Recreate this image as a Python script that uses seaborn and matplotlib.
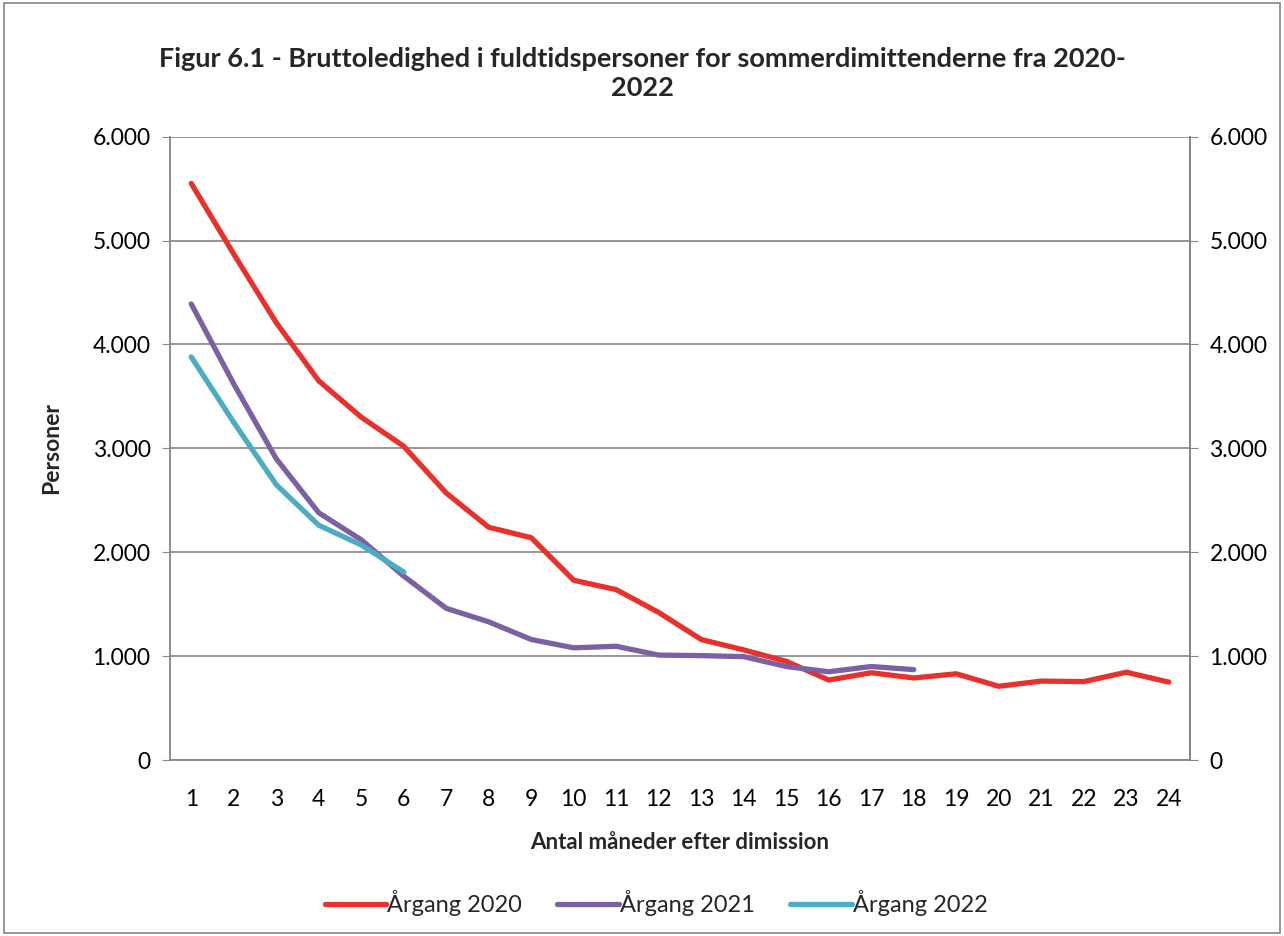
import numpy as np
import pandas as pd
import matplotlib
matplotlib.use("Agg")
import matplotlib.pyplot as plt
import seaborn as sns
from matplotlib.ticker import FuncFormatter, FixedLocator

# Data
months = list(range(1, 25))
aargang_2020 = [5550, 4870, 4210, 3650, 3300, 3020, 2570, 2240, 2140, 1730, 1640, 1420,
                1160, 1060, 950, 770, 840, 790, 830, 710, 760, 755, 845, 750]
aargang_2021 = [4390, 3620, 2900, 2380, 2120, 1770, 1460, 1330, 1160, 1080, 1095, 1010,
                1005, 995, 900, 850, 900, 870]
aargang_2022 = [3880, 3250, 2650, 2260, 2070, 1810]
series_names = ["Årgang 2020", "Årgang 2021", "Årgang 2022"]
colors = ["#E8312A", "#7B60A4", "#4BACC6"]
y_ticks = [0, 1000, 2000, 3000, 4000, 5000, 6000]

rows = []
for name, vals in zip(series_names, [aargang_2020, aargang_2021, aargang_2022]):
    for m, v in zip(months, vals):
        rows.append({"Måned": m, "Personer": v, "Serie": name})
df = pd.DataFrame(rows)

sns.set_style("white")
plt.rcParams["font.family"] = ["Lato", "DejaVu Sans"]

fig = plt.figure(figsize=(12.84, 9.36), dpi=100)
ax = fig.add_axes([0.1324, 0.188, 0.7944, 0.666])

sns.lineplot(data=df, x="Måned", y="Personer", hue="Serie", hue_order=series_names,
             palette=colors, linewidth=3.8, ax=ax, legend=False, sort=True,
             solid_capstyle="round")

ax.set_xlim(0.5, 24.5)
ax.set_ylim(0, 6000)
fmt = FuncFormatter(lambda v, p: f"{int(v):,}".replace(",", "."))
ax.yaxis.set_major_locator(FixedLocator(y_ticks))
ax.yaxis.set_major_formatter(fmt)
ax.set_xticks(months)
ax.set_xticklabels([str(m) for m in months])
ax.set_xticks(np.arange(0.5, 25, 1), minor=True)
ax.tick_params(axis="x", which="major", length=0, labelsize=16.5, pad=21, colors="black")
ax.tick_params(axis="x", which="minor", length=6, color="#868686", direction="out")
ax.tick_params(axis="y", which="major", length=6, color="#868686", labelsize=16.5,
               direction="out", labelcolor="black", pad=8)
ax.grid(axis="y", color="#8C8C8C", linewidth=1.3)
ax.set_axisbelow(True)
ax.spines["top"].set_visible(False)
for s in ["left", "bottom", "right"]:
    ax.spines[s].set_color("#868686")
    ax.spines[s].set_linewidth(1.3)

ax2 = ax.twinx()
ax2.set_ylim(ax.get_ylim())
ax2.yaxis.set_major_locator(FixedLocator(y_ticks))
ax2.yaxis.set_major_formatter(fmt)
ax2.tick_params(axis="y", length=6, color="#868686", labelsize=16.5, direction="out",
                labelcolor="black", pad=8)
for s in ["top", "left", "bottom"]:
    ax2.spines[s].set_visible(False)
ax2.spines["right"].set_color("#868686")
ax2.spines["right"].set_linewidth(1.3)

ax.set_xlabel("Antal måneder efter dimission", fontsize=16, fontweight="bold", labelpad=16)
ax.set_ylabel("Personer", fontsize=16.5, fontweight="bold", labelpad=22)

fig.text(0.5, 0.922, "Figur 6.1 - Bruttoledighed i fuldtidspersoner for sommerdimittenderne fra 2020-\n2022",
         ha="center", va="center", fontsize=19.5, fontweight="bold", linespacing=1.25)

handles = [plt.Line2D([], [], color=c, linewidth=3.8) for c in colors]
fig.legend(handles, series_names, loc="center", bbox_to_anchor=(0.511, 0.035),
           ncol=3, frameon=False, fontsize=17, handlelength=2.6, handletextpad=0.05,
           columnspacing=1.5)

border = plt.Rectangle((0.003, 0.003), 0.994, 0.994, transform=fig.transFigure,
                       fill=False, edgecolor="#868686", linewidth=1.2)
fig.patches.append(border)

fig.savefig("out.png", dpi=100)
